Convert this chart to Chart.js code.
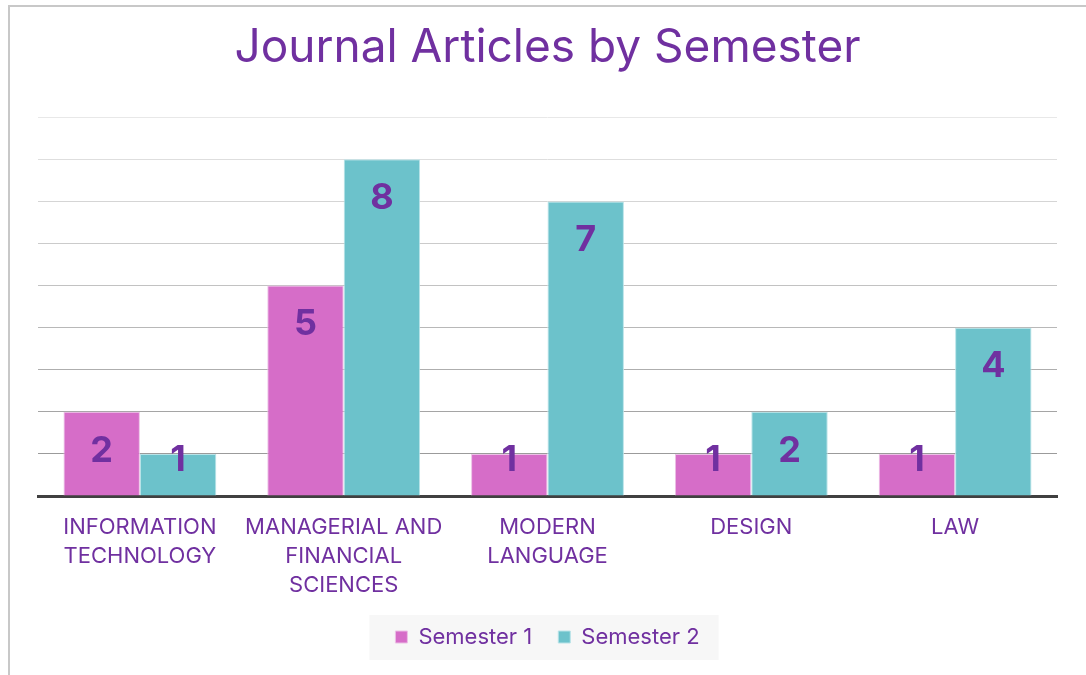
<!DOCTYPE html>
<html>
<head>
<meta charset="utf-8">
<title>Journal Articles by Semester</title>
<script src="https://cdn.jsdelivr.net/npm/chart.js@4.4.1/dist/chart.umd.min.js"></script>
<style>
  html, body {
    margin: 0;
    padding: 0;
    background: #ffffff;
    overflow: hidden;
  }
  .frame {
    position: absolute;
    left: 8px;
    top: 5px;
    width: 1200px;
    height: 800px;
    border: 2px solid #c8c8c8;
  }
  .chart-wrap {
    position: absolute;
    left: 0;
    top: 0;
    width: 1086px;
    height: 675px;
  }
</style>
</head>
<body>
<div class="frame"></div>
<div class="chart-wrap">
  <canvas id="articlesChart" width="1086" height="675"></canvas>
</div>

<script>
const departments = [
  ["INFORMATION", "TECHNOLOGY"],
  ["MANAGERIAL AND", "FINANCIAL", "SCIENCES"],
  ["MODERN", "LANGUAGE"],
  "DESIGN",
  "LAW",
];
const semester1 = [2, 5, 1, 1, 1];
const semester2 = [1, 8, 7, 2, 4];
const seriesNames = ["Semester 1", "Semester 2"];
const yMax = 9;

const purple = "#7030A0";
const fontFamily = "Inter, 'Open Sans', sans-serif";

/* grid lines fade from darker at the base to pale at the top */
function gridColor(context) {
  const value = context.tick ? context.tick.value : 0;
  if (value === 0) {
    return "rgba(0,0,0,0)";
  }
  const t = (value - 1) / (yMax - 1);
  const shade = Math.round(155 + t * (232 - 155));
  return "rgb(" + shade + "," + shade + "," + shade + ")";
}

/* soft grey panel behind the legend */
const legendPanel = {
  id: "legendPanel",
  beforeDraw(chart) {
    const legend = chart.legend;
    if (!legend || !legend.legendHitBoxes || legend.legendHitBoxes.length === 0) {
      return;
    }
    const boxes = legend.legendHitBoxes;
    const left = Math.min(...boxes.map((b) => b.left)) - 26;
    const right = Math.max(...boxes.map((b) => b.left + b.width)) + 19;
    const midY = boxes[0].top + boxes[0].height / 2;
    const ctx = chart.ctx;
    ctx.save();
    ctx.fillStyle = "#f7f7f7";
    ctx.fillRect(left, midY - 22, right - left, 45);
    ctx.restore();
  },
};

/* value labels inside the top of each bar */
const barValues = {
  id: "barValues",
  afterDatasetsDraw(chart) {
    const ctx = chart.ctx;
    ctx.save();
    ctx.font = "bold 36px " + fontFamily;
    ctx.fillStyle = purple;
    ctx.textAlign = "center";
    ctx.textBaseline = "middle";
    chart.data.datasets.forEach((dataset, i) => {
      const meta = chart.getDatasetMeta(i);
      meta.data.forEach((bar, j) => {
        const props = bar.getProps(["x", "y", "base"], true);
        const height = props.base - props.y;
        const y = height > 60 ? props.y + 39 : props.y + 6;
        ctx.fillText(String(dataset.data[j]), props.x, y);
      });
    });
    ctx.restore();
  },
};

const canvas = document.getElementById("articlesChart");

new Chart(canvas, {
  type: "bar",
  data: {
    labels: departments,
    datasets: [
      {
        label: seriesNames[0],
        data: semester1,
        backgroundColor: "#D66DC8",
        borderColor: "#ecc0e6",
        borderWidth: 1,
        categoryPercentage: 0.75,
        barPercentage: 1.0,
      },
      {
        label: seriesNames[1],
        data: semester2,
        backgroundColor: "#6CC2CB",
        borderColor: "#b8e3e8",
        borderWidth: 1,
        categoryPercentage: 0.75,
        barPercentage: 1.0,
      },
    ],
  },
  options: {
    responsive: false,
    animation: false,
    layout: {
      padding: {
        left: 38,
        right: 29,
        top: 0,
        bottom: 17,
      },
    },
    plugins: {
      title: {
        display: true,
        text: "Journal Articles by Semester",
        color: purple,
        font: {
          family: fontFamily,
          size: 46,
          weight: "normal",
          lineHeight: 1.2,
        },
        padding: {
          top: 21,
          bottom: 41,
        },
      },
      legend: {
        position: "bottom",
        labels: {
          color: purple,
          boxWidth: 12,
          boxHeight: 12,
          padding: 26,
          font: {
            family: fontFamily,
            size: 22,
          },
        },
      },
      tooltip: {
        enabled: false,
      },
    },
    scales: {
      x: {
        grid: {
          display: false,
          drawTicks: false,
        },
        border: {
          display: true,
          color: "#404040",
          width: 3,
        },
        ticks: {
          color: purple,
          padding: 17,
          maxRotation: 0,
          autoSkip: false,
          font: {
            family: fontFamily,
            size: 22,
            lineHeight: 1.32,
          },
        },
        afterFit(scale) {
          // three label lines plus the gap under the axis
          scale.height = 104;
        },
      },
      y: {
        min: 0,
        max: yMax,
        ticks: {
          display: false,
          stepSize: 1,
        },
        border: {
          display: false,
        },
        grid: {
          drawTicks: false,
          color: gridColor,
          lineWidth: 1,
        },
      },
    },
  },
  plugins: [legendPanel, barValues],
});
</script>
</body>
</html>
